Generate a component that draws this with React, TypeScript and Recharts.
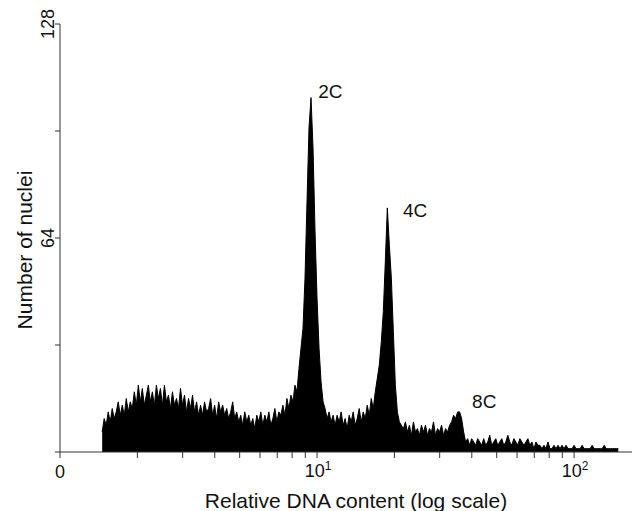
import { AreaChart, Area, XAxis, YAxis, ReferenceDot } from "recharts";

// log-amplified channels: 128 channels per decade, histogram starts at channel 21
const firstChannel = 21;
const channelsPerDecade = 128;

const counts = [
  6, 10, 8, 12, 9, 13, 10, 12, 15, 11,
  14, 11, 16, 12, 15, 13, 18, 14, 20, 15,
  19, 14, 17, 20, 15, 18, 14, 20, 16, 19,
  14, 20, 15, 17, 13, 18, 14, 16, 13, 19,
  14, 17, 12, 16, 13, 17, 12, 15, 11, 14,
  11, 15, 12, 13, 16, 11, 14, 10, 15, 12,
  14, 11, 13, 10, 12, 15, 10, 12, 9, 11,
  8, 12, 9, 11, 8, 10, 7, 11, 9, 12,
  8, 11, 9, 12, 8, 10, 13, 9, 12, 11,
  14, 11, 16, 13, 17, 15, 20, 18, 25, 31,
  37, 52, 75, 97, 106, 91, 66, 46, 31, 21,
  15, 13, 10, 12, 9, 11, 8, 11, 9, 12,
  8, 10, 7, 11, 9, 12, 8, 10, 13, 9,
  12, 10, 14, 11, 16, 13, 18, 22, 26, 33,
  42, 57, 73, 62, 52, 36, 20, 12, 9, 8,
  7, 9, 6, 8, 5, 9, 6, 7, 5, 8,
  6, 8, 5, 7, 6, 9, 5, 7, 6, 8,
  5, 7, 6, 8, 9, 11, 10, 12, 12, 10,
  6, 3, 4, 2, 4, 3, 2, 4, 3, 2,
  4, 2, 3, 5, 2, 3, 4, 2, 3, 4,
  2, 3, 5, 3, 2, 4, 3, 2, 4, 3,
  2, 3, 4, 2, 3, 1, 3, 2, 2, 1,
  2, 1, 3, 1, 1, 2, 1, 2, 1, 2,
  1, 2, 1, 1, 1, 2, 1, 1, 1, 2,
  1, 1, 1, 1, 2, 1, 1, 1, 1, 1,
  2, 1, 1, 1, 1, 1, 1, 1,
];

const xTicks = [1, 2, 3, 4, 5, 6, 7, 8, 9, 10, 20, 30, 40, 50, 60, 70, 80, 90, 100];
const yTicks = [0, 32, 64, 96, 128];
const yLabelled = [64, 128];

const peakLabels = [
  { name: "2C", dna: 10.1, nuclei: 108 },
  { name: "4C", dna: 21.6, nuclei: 72.3 },
  { name: "8C", dna: 40.1, nuclei: 15.1 },
];

const data = counts.map((n, i) => ({
  dna: 10 ** ((firstChannel + i) / channelsPerDecade),
  nuclei: n,
}));

const font = "'Liberation Sans', Arial, sans-serif";

const XTick = ({ x, y, payload }: any) => {
  const v = payload.value;
  if (v === 1) {
    return (
      <text x={x} y={y + 18} textAnchor="middle" fontSize={18} fill="#111">
        0
      </text>
    );
  }
  if (v === 10 || v === 100) {
    return (
      <text x={x + 1} y={y + 17} textAnchor="middle" fontSize={18} fill="#111">
        <tspan>10</tspan>
        <tspan dy={-7} fontSize={12}>
          {v === 10 ? "1" : "2"}
        </tspan>
      </text>
    );
  }
  return <g />;
};

const YTick = ({ x, y, payload }: any) => {
  if (!yLabelled.includes(payload.value)) return <g />;
  return (
    <text
      x={x + 1}
      y={y}
      transform={`rotate(-90 ${x + 1} ${y})`}
      textAnchor="middle"
      fontSize={18}
      fill="#111"
    >
      {payload.value}
    </text>
  );
};

const XTitle = ({ viewBox }: any) => (
  <text
    x={viewBox.x + viewBox.width / 2 + 10}
    y={viewBox.y + 56}
    textAnchor="middle"
    fontSize={21}
    fill="#111"
  >
    Relative DNA content (log scale)
  </text>
);

const YTitle = ({ viewBox }: any) => {
  const cx = viewBox.x + 32;
  const cy = viewBox.y + viewBox.height / 2 + 12;
  return (
    <text
      x={cx}
      y={cy}
      transform={`rotate(-90 ${cx} ${cy})`}
      textAnchor="middle"
      fontSize={21}
      fill="#111"
    >
      Number of nuclei
    </text>
  );
};

export default function App() {
  return (
    <div style={{ position: "absolute", left: 0, top: 0, fontFamily: font }}>
      <AreaChart
        width={634}
        height={511}
        data={data}
        margin={{ top: 24, right: 2, left: 0, bottom: 0 }}
      >
        <XAxis
          dataKey="dna"
          type="number"
          scale="log"
          domain={[1, 168]}
          ticks={xTicks}
          tick={<XTick />}
          tickSize={6}
          height={59}
          stroke="#333"
          interval={0}
          label={<XTitle />}
        />
        <YAxis
          type="number"
          domain={[0, 128]}
          ticks={yTicks}
          tick={<YTick />}
          tickSize={5}
          width={60}
          stroke="#333"
          interval={0}
          label={<YTitle />}
        />
        <Area
          type="linear"
          dataKey="nuclei"
          stroke="#000"
          strokeWidth={1}
          fill="#000"
          fillOpacity={1}
          isAnimationActive={false}
        />
        {peakLabels.map((p) => (
          <ReferenceDot
            key={p.name}
            x={p.dna}
            y={p.nuclei}
            r={0}
            fill="none"
            stroke="none"
            label={{ value: p.name, position: "right", offset: 0, fontSize: 19, fill: "#111" }}
          />
        ))}
      </AreaChart>
    </div>
  );
}
